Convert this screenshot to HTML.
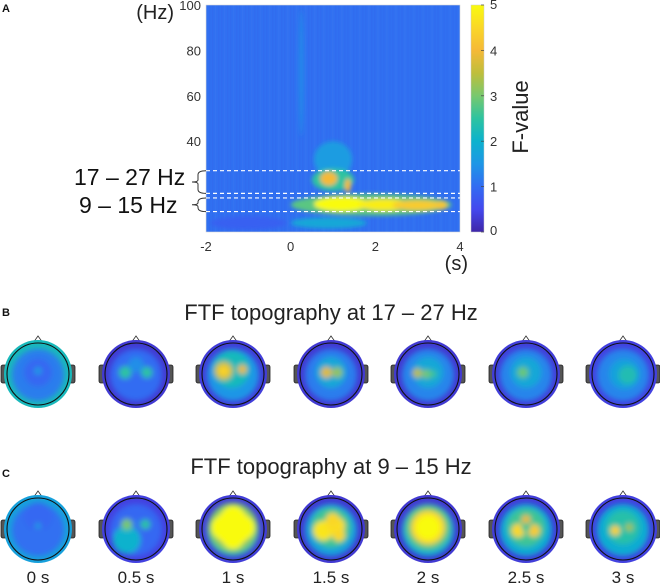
<!DOCTYPE html>
<html><head><meta charset="utf-8">
<style>
html,body{margin:0;padding:0;background:#fff;}
body{width:660px;height:584px;overflow:hidden;position:relative;font-family:"Liberation Sans",sans-serif;}
svg{position:absolute;left:0;top:0;}
</style></head>
<body>
<svg id="fig" width="660" height="584" viewBox="0 0 660 584">
<defs>
<filter id="blurS" x="-50%" y="-50%" width="200%" height="200%"><feGaussianBlur stdDeviation="2.2"/></filter>
<filter id="blurT" x="-50%" y="-50%" width="200%" height="200%"><feGaussianBlur stdDeviation="2.6"/></filter>
<clipPath id="plotClip"><rect x="206" y="5" width="254" height="227"/></clipPath>
<linearGradient id="cbGrad" x1="0" y1="1" x2="0" y2="0"></linearGradient>
</defs>
<g id="panelA"></g>
<g id="panelB"></g>
<g id="panelC"></g>
</svg>
<script>
// ---- Spectrogram data (time in s, freq in Hz, F-value) ----
const xTicks = [-2, 0, 2, 4];
const yTicks = [40, 60, 80, 100];
const cbTicks = [0, 1, 2, 3, 4, 5];
const bandEdges = [27, 17, 15, 9];
const baseF = 1.05;
const blobT = [-1.0, 0.9, 0.25, 1.0, 1.0, 1.9, 0.9, 1.35, 1.2, 2.2, 3.0, 3.55];
const blobF = [4, 4, 70, 32, 23, 12, 23.5, 20.5, 12.3, 12, 11.8, 11.8];
const blobDT = [0.9, 0.9, 0.06, 0.45, 0.5, 1.9, 0.2, 0.07, 0.65, 0.6, 0.6, 0.15];
const blobDF = [3, 2.5, 28, 8, 5, 4.8, 3, 3, 3.2, 2.6, 2.2, 1.8];
const blobV = [0.85, 1.8, 1.35, 1.6, 2.5, 2.8, 4.0, 4.0, 5, 4.8, 4.3, 4.2];

// ---- Topography data: [x, y, r, value] in head units (-1..1) ----
const topoTimes = ["0 s", "0.5 s", "1 s", "1.5 s", "2 s", "2.5 s", "3 s"];
const rowBBase = [2.2, 0.3, 0.35, 0.3, 0.3, 0.35, 0.4];
const rowBInner = [1.2, 1.0, 1.5, 1.2, 1.3, 1.3, 1.3];
const rowBBlobs = [
 [[0,0.05,0.45,0.95],[0,0.1,0.12,1.6]],
 [[-0.35,0.05,0.2,2.5],[0.35,0.05,0.18,2.5],[0,0.3,0.25,1.4]],
 [[-0.05,0.15,0.6,2.2],[-0.3,0.1,0.3,3.6],[-0.3,0.1,0.18,4.4],[0.3,0.15,0.15,3.9]],
 [[0,0.05,0.5,1.8],[-0.15,0.05,0.18,3.8],[0.2,0.05,0.17,3.2]],
 [[0,0.05,0.5,1.8],[-0.35,0.03,0.15,3.5],[-0.05,0.0,0.15,3.0],[0.15,0.0,0.13,2.6]],
 [[0,0.05,0.5,1.8],[-0.1,0.05,0.18,2.9]],
 [[0.05,0.0,0.5,1.7],[0.15,-0.03,0.3,2.3]]
];
const rowCBase = [1.7, 0.4, 0.35, 0.3, 0.3, 0.35, 0.4];
const rowCInner = [1.05, 0.95, 2.3, 1.7, 2.0, 1.9, 1.9];
const rowCBlobs = [
 [[0,0.4,0.45,0.95],[0,0.1,0.1,1.6]],
 [[-0.3,-0.35,0.45,2.0],[-0.3,0.15,0.18,3.0],[0.3,0.15,0.16,2.5],[0,0.2,0.1,1.2]],
 [[0,0.05,0.8,3.0],[0,0.05,0.6,4.6],[-0.3,0.05,0.4,5],[0.3,0.05,0.4,5],[0,0.35,0.4,5],[0,-0.3,0.35,5]],
 [[0,0.05,0.65,2.6],[-0.25,-0.05,0.32,4.7],[0.15,0.1,0.3,4.6],[0.05,0.3,0.22,4.5],[0.25,-0.2,0.2,4.5]],
 [[0,0.05,0.72,2.8],[0,0.05,0.55,4.5],[0,0.05,0.4,5]],
 [[0,0.05,0.62,2.6],[-0.25,-0.05,0.22,4.5],[0.25,-0.05,0.2,4.3],[0,0.3,0.15,3.9],[0,0.05,0.15,2.6]],
 [[0,0.05,0.55,2.4],[-0.25,-0.05,0.16,4.4],[0.2,0.05,0.13,3.3]]
];

const NS = "http://www.w3.org/2000/svg";
function mk(tag, attrs, parent){const e=document.createElementNS(NS,tag);for(const k in attrs)e.setAttribute(k,attrs[k]);if(parent)parent.appendChild(e);return e;}
const stops=[[62,38,168],[68,72,238],[50,108,242],[30,150,230],[12,178,205],[45,195,160],[120,200,110],[190,190,60],[245,185,55],[250,215,40],[249,251,14]];
function parula(v){let t=Math.max(0,Math.min(1,v/5))*10;const i=Math.min(9,Math.floor(t));const f=t-i;const a=stops[i],b=stops[i+1];return "rgb("+a.map((c,j)=>Math.round(c+(b[j]-c)*f)).join(",")+")";}
const grad=document.getElementById("cbGrad");
stops.forEach((s,i)=>mk("stop",{offset:i/10,"stop-color":"rgb("+s.join(",")+")"},grad));

const X0=206,X1=460,Y0=232,Y1=5;
const xs=t=>X0+(t+2)/6*(X1-X0);
const ys=f=>Y0-f/100*(Y0-Y1);
const A=document.getElementById("panelA");
const heat=mk("g",{"clip-path":"url(#plotClip)"},A);


mk("rect",{x:X0,y:Y1,width:X1-X0,height:Y0-Y1,fill:parula(baseF)},heat);
for(let i=0;i<85;i++){const tt=-2+i*0.071;mk("rect",{x:xs(tt),y:Y1,width:1.2,height:Y0-Y1,fill:(i%3==0)?"#5a88f4":"#3a5ae6",opacity:0.15},heat);}
const blobG=mk("g",{filter:"url(#blurS)"},heat);
for(let i=0;i<blobT.length;i++){
 const el=mk("ellipse",{cx:xs(blobT[i]),cy:ys(blobF[i]),rx:blobDT[i]/6*(X1-X0),ry:blobDF[i]/100*(Y0-Y1),fill:parula(blobV[i])},blobG);
 
 
}
mk("rect",{x:X0,y:Y1,width:X1-X0,height:Y0-Y1,fill:"none",stroke:"#d8d8d8","stroke-width":0.6},A);
bandEdges.forEach(f=>{const l=mk("line",{x1:X0,x2:X1,y1:ys(f),y2:ys(f),stroke:"#fff","stroke-width":1.2,"stroke-dasharray":"4,3"},A);
 
 });
function txt(parent,x,y,s,attrs,name){const t=mk("text",Object.assign({x:x,y:y},attrs),parent);t.textContent=s;return t;}
xTicks.forEach(t=>txt(A,xs(t),251,String(t),{"font-size":13,"text-anchor":"middle",fill:"#333"},"x-tick-label"));
yTicks.forEach(f=>txt(A,201,ys(f)+5,String(f),{"font-size":13,"text-anchor":"end",fill:"#333"},"y-tick-label"));
txt(A,174,19,"(Hz)",{"font-size":20,"text-anchor":"end",fill:"#222"},"y-axis-title");
txt(A,468,270,"(s)",{"font-size":20,"text-anchor":"end",fill:"#222"},"x-axis-title");
txt(A,2,12,"A",{"font-size":11,"font-weight":"bold",fill:"#111"},"panel-label-a");
txt(A,74,185,"17 – 27 Hz",{"font-size":23,fill:"#111"},"band-label-17-27");
txt(A,79,213,"9 – 15 Hz",{"font-size":23,fill:"#111"},"band-label-9-15");
function brace(f1,f2,name){const a=ys(f1),b=ys(f2),m=(a+b)/2;
 const p=mk("path",{d:`M206 ${a} Q198 ${a} 198 ${a+4} L198 ${m-2} Q198 ${m} 192 ${m} Q198 ${m} 198 ${m+2} L198 ${b-4} Q198 ${b} 206 ${b}`,fill:"none",stroke:"#333","stroke-width":1},A);
 }
brace(27,17,"brace-17-27");brace(15,9,"brace-9-15");
const cb=mk("rect",{x:471,y:5,width:13,height:227,fill:"url(#cbGrad)",stroke:"#ccc","stroke-width":0.5},A);

cbTicks.forEach(v=>{const y=232-v/5*227;mk("line",{x1:481,x2:484,y1:y,y2:y,stroke:"#444","stroke-width":0.7},A);
 txt(A,490,y+(v==5?4:v==0?3:5),String(v),{"font-size":13,fill:"#333"},"colorbar-tick-label");});
txt(A,0,0,"F-value",{"font-size":22,fill:"#222","text-anchor":"middle",transform:"translate(528,117) rotate(-90)"},"colorbar-title");

const centersX=[38,136,233,331,428,526,623];
let clipId=0;
function head(parent,cx,cy,base,inner,blobs,name){
 const g=mk("g",{},parent);
 const id="hc"+(clipId++);const cp=mk("clipPath",{id:id},g);mk("circle",{cx:cx,cy:cy,r:34},cp);
 mk("rect",{x:cx-37,y:cy-9,width:6,height:18,rx:2,fill:"#555",stroke:"#222","stroke-width":0.8},g);
 mk("rect",{x:cx+31,y:cy-9,width:6,height:18,rx:2,fill:"#555",stroke:"#222","stroke-width":0.8},g);
 mk("path",{d:`M${cx-5} ${cy-31} L${cx} ${cy-38} L${cx+5} ${cy-31}`,fill:"#fff",stroke:"#333","stroke-width":0.8},g);
 const c=mk("g",{"clip-path":`url(#${id})`},g);
 mk("rect",{x:cx-36,y:cy-36,width:72,height:72,fill:parula(base)},c);
 const bg=mk("g",{filter:"url(#blurT)"},c);
 mk("circle",{cx:cx,cy:cy+1,r:26,fill:parula(inner)},bg);
 blobs.forEach(b=>mk("circle",{cx:cx+b[0]*31,cy:cy-b[1]*31,r:b[2]*31,fill:parula(b[3])},bg));
 mk("circle",{cx:cx,cy:cy,r:31,fill:"none",stroke:"#111","stroke-width":1.1},g);
}
const B=document.getElementById("panelB"),C=document.getElementById("panelC");
txt(B,2,316,"B",{"font-size":11,"font-weight":"bold",fill:"#111"},"panel-label-b");
txt(B,331,320,"FTF topography at 17 – 27 Hz",{"font-size":22,"text-anchor":"middle",fill:"#222"},"row-b-title");
txt(C,2,477,"C",{"font-size":11,"font-weight":"bold",fill:"#111"},"panel-label-c");
txt(C,331,474,"FTF topography at 9 – 15 Hz",{"font-size":22,"text-anchor":"middle",fill:"#222"},"row-c-title");
for(let i=0;i<7;i++){
 head(B,centersX[i],374,rowBBase[i],rowBInner[i],rowBBlobs[i],"topo-17-27-"+i);
 head(C,centersX[i],529,rowCBase[i],rowCInner[i],rowCBlobs[i],"topo-9-15-"+i);
 txt(C,centersX[i],583,topoTimes[i],{"font-size":17,"text-anchor":"middle",fill:"#222"},"time-label");
}
</script>
</body></html>
